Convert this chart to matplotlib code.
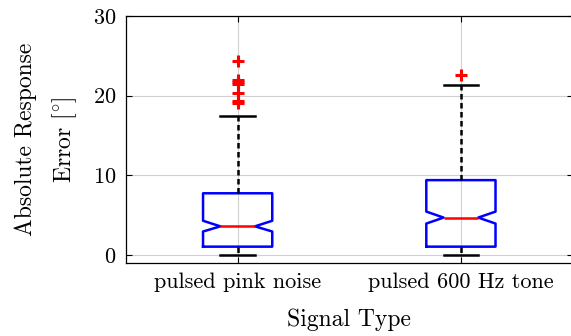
import matplotlib
matplotlib.use("Agg")
import matplotlib.pyplot as plt

plt.rcParams['font.family'] = ['cmr10', 'DejaVu Serif']
plt.rcParams['mathtext.fontset'] = 'cm'
plt.rcParams['axes.formatter.use_mathtext'] = True

# summary statistics per signal type (degrees)
signal_types = ['pulsed pink noise', 'pulsed 600 Hz tone']
medians = [3.6, 4.7]
q1 = [1.05, 1.05]
q3 = [7.75, 9.4]
whisker_lo = [0.0, 0.0]
whisker_hi = [17.45, 21.35]
notch_lo = [2.95, 3.95]
notch_hi = [4.3, 5.45]
outliers = [[24.3, 22.0, 21.7, 21.5, 20.3, 19.3, 19.1], [22.6]]

stats = []
for i, name in enumerate(signal_types):
    stats.append(dict(label=name, med=medians[i], q1=q1[i], q3=q3[i],
                      whislo=whisker_lo[i], whishi=whisker_hi[i],
                      cilo=notch_lo[i], cihi=notch_hi[i], fliers=outliers[i]))

fig = plt.figure(figsize=(5.71, 3.36), dpi=100)
ax = fig.add_axes([0.2207, 0.2173, 0.782, 0.735])

lw = 1.8
ax.bxp(stats, positions=[1, 2], widths=0.31, shownotches=True,
       boxprops=dict(color='#0000ff', linewidth=lw),
       medianprops=dict(color='#ff0000', linewidth=lw),
       whiskerprops=dict(color='black', linewidth=lw, linestyle=(0, (2.2, 1.4))),
       capprops=dict(color='black', linewidth=lw),
       flierprops=dict(marker='+', markeredgecolor='#ff0000', markersize=8,
                       markeredgewidth=2.2, linestyle='none'))

ax.set_xlim(0.5, 2.5)
ax.set_ylim(-1, 30)
ax.set_yticks([0, 10, 20, 30])
ax.set_xticks([1, 2])
ax.set_xticklabels(signal_types)
ax.grid(True, color='#d0d0d0', linewidth=0.8)
ax.set_axisbelow(True)
ax.tick_params(direction='in', top=True, right=True, length=4,
               labelsize=16, width=0.8, pad=7)
for s in ax.spines.values():
    s.set_linewidth(0.9)

ax.set_ylabel('Absolute Response\nError $[^{\\circ}]$', fontsize=17,
              linespacing=1.65, labelpad=10)
ax.set_xlabel('Signal Type', fontsize=17, labelpad=12)

fig.savefig('out.png', dpi=100)
